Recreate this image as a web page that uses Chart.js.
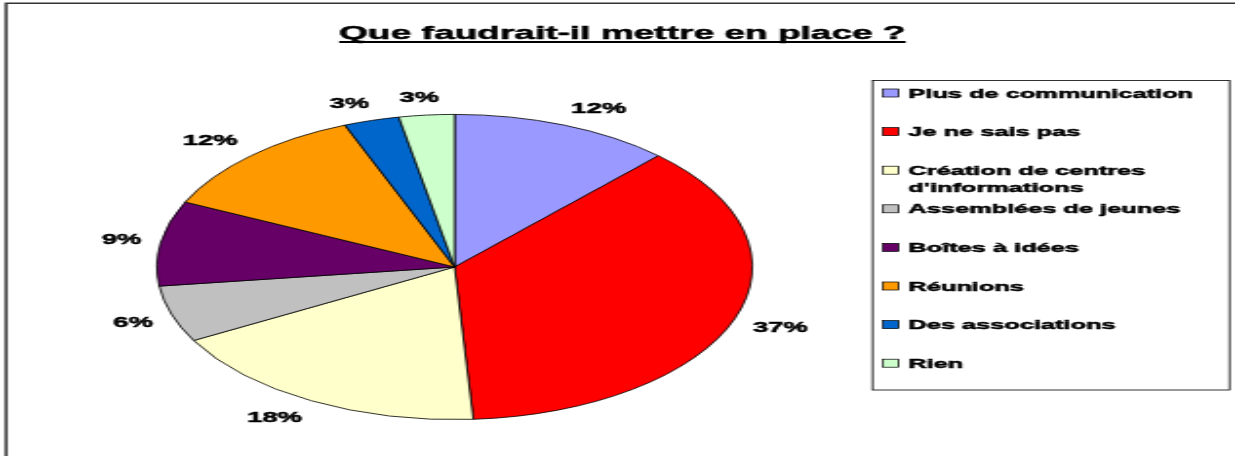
<!DOCTYPE html>
<html>
<head>
<meta charset="utf-8">
<script src="https://cdn.jsdelivr.net/npm/chart.js@4/dist/chart.umd.min.js"></script>
<style>
  html, body { margin: 0; padding: 0; background: #fff; overflow: hidden; }
  #wrap { width: 633px; height: 456px; transform: scaleX(1.951); transform-origin: 0 0; }
  canvas { display: block; }
</style>
</head>
<body>
<div id="wrap"><canvas id="c" width="633" height="456"></canvas></div>
<script>
const chartTitle = "Que faudrait-il mettre en place ?";
const categories = [
  "Plus de communication",
  "Je ne sais pas",
  ["Création de centres", "d'informations"],
  "Assemblées de jeunes",
  "Boîtes à idées",
  "Réunions",
  "Des associations",
  "Rien"
];
const values = [12, 37, 18, 6, 9, 12, 3, 3];
const colors = ["#9999FF", "#FF0000", "#FFFFCC", "#C0C0C0", "#660066", "#FF9900", "#0066CC", "#CCFFCC"];

const FONT = "'Liberation Sans', Arial, Helvetica, sans-serif";

function heavyText(ctx, txt, x, y, sw) {
  ctx.fillText(txt, x, y);
  ctx.lineWidth = sw;
  ctx.strokeStyle = '#000';
  ctx.strokeText(txt, x, y);
}

const framePlugin = {
  id: 'frame',
  beforeDraw(chart) {
    const ctx = chart.ctx;
    ctx.save();
    ctx.fillStyle = '#fff';
    ctx.fillRect(0, 0, chart.width, chart.height);
    ctx.strokeStyle = '#333';
    ctx.lineWidth = 1.5;
    ctx.beginPath();
    ctx.moveTo(chart.width, 3.2);
    ctx.lineTo(3.1, 3.2);
    ctx.lineTo(3.1, chart.height);
    ctx.stroke();
    // title
    ctx.fillStyle = '#000';
    ctx.font = 'bold 19px ' + FONT;
    ctx.textAlign = 'center';
    ctx.textBaseline = 'alphabetic';
    const tx = 319, ty = 39;
    heavyText(ctx, chartTitle, tx, ty, 0.5);
    const tw = ctx.measureText(chartTitle).width;
    ctx.lineWidth = 1.8;
    ctx.strokeStyle = '#000';
    ctx.beginPath();
    ctx.moveTo(tx - tw / 2, ty + 3);
    ctx.lineTo(tx + tw / 2, ty + 3);
    ctx.stroke();
    ctx.restore();
  }
};

const labelPlugin = {
  id: 'pctLabels',
  afterDatasetsDraw(chart) {
    const ctx = chart.ctx;
    const meta = chart.getDatasetMeta(0);
    const data = chart.data.datasets[0].data;
    const total = data.reduce((a, b) => a + b, 0);
    ctx.save();
    ctx.font = 'bold 14px ' + FONT;
    ctx.fillStyle = '#000';
    ctx.textAlign = 'center';
    ctx.textBaseline = 'middle';
    const clamp = v => Math.max(-1, Math.min(1, v));
    meta.data.forEach((arc, i) => {
      const p = arc.getProps(['x', 'y', 'startAngle', 'endAngle', 'outerRadius'], true);
      const a = (p.startAngle + p.endAngle) / 2;
      const c = Math.cos(a), s = Math.sin(a);
      const txt = Math.round(data[i] / total * 100) + '%';
      const w = ctx.measureText(txt).width;
      const g = 10, hh = 8;
      const x = p.x + c * (p.outerRadius + g) + clamp(c * 3) * w / 2;
      const y = p.y + s * (p.outerRadius + g) + clamp(s * 2) * hh;
      heavyText(ctx, txt, x, y + 1, 0.5);
    });
    ctx.restore();
  }
};

const legendPlugin = {
  id: 'boxLegend',
  afterDraw(chart) {
    const ctx = chart.ctx;
    const ds = chart.data.datasets[0];
    ctx.save();
    ctx.strokeStyle = '#000';
    ctx.lineWidth = 0.8;
    ctx.strokeRect(447.2, 80.5, 183, 309.5);
    ctx.font = 'bold 13px ' + FONT;
    ctx.textAlign = 'left';
    ctx.textBaseline = 'middle';
    chart.data.labels.forEach((lab, i) => {
      const ry = 93 + i * 38.6;
      ctx.fillStyle = ds.backgroundColor[i];
      ctx.fillRect(452.5, ry - 4, 8, 8);
      ctx.lineWidth = 0.7;
      ctx.strokeStyle = '#000';
      ctx.strokeRect(452.5, ry - 4, 8, 8);
      ctx.fillStyle = '#000';
      const lines = Array.isArray(lab) ? lab : [lab];
      lines.forEach((ln, j) => heavyText(ctx, ln, 465.6, ry + 1 + j * 17, 0.5));
    });
    ctx.restore();
  }
};

new Chart(document.getElementById('c'), {
  type: 'pie',
  data: {
    labels: categories,
    datasets: [{
      data: values,
      backgroundColor: colors,
      borderColor: '#000',
      borderWidth: 0.8
    }]
  },
  options: {
    responsive: false,
    animation: false,
    devicePixelRatio: 1,
    layout: { padding: { top: 114, bottom: 36, left: 80, right: 247 } },
    plugins: {
      legend: { display: false },
      title: { display: false },
      tooltip: { enabled: false }
    }
  },
  plugins: [framePlugin, labelPlugin, legendPlugin]
});
</script>
</body>
</html>
